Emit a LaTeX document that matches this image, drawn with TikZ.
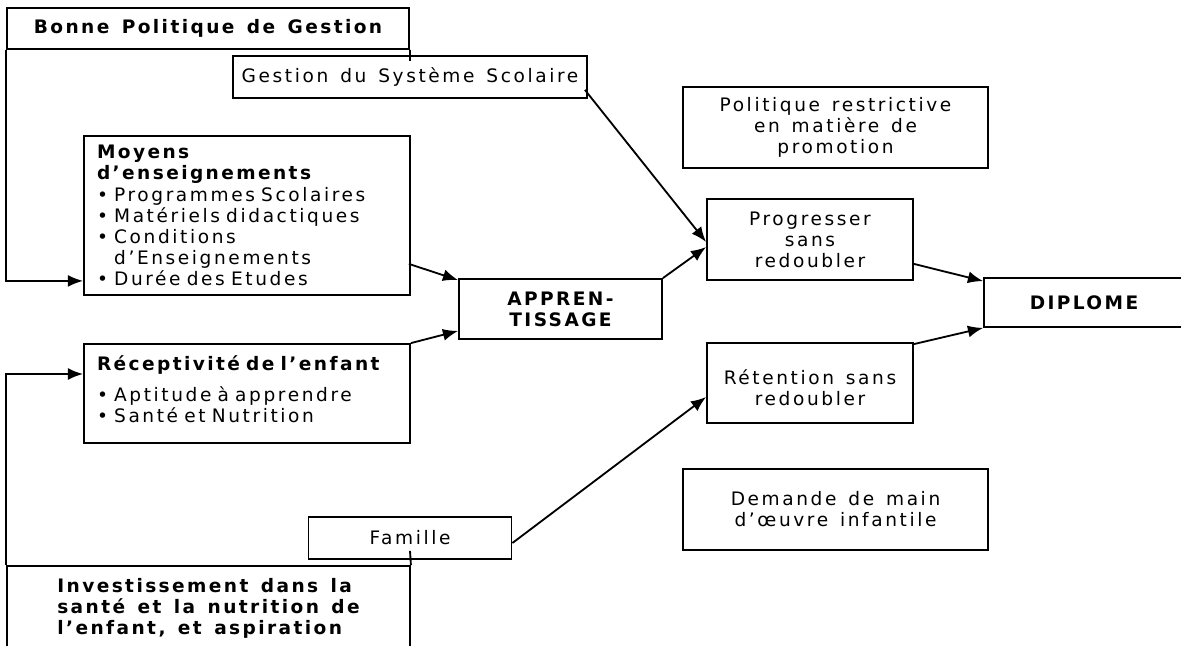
\documentclass[tikz,border=0pt]{standalone}
\usepackage{fontspec}
\setmainfont{DejaVu Sans}[LetterSpace=14, WordSpace=1.4, BoldFeatures={LetterSpace=13}]
\usetikzlibrary{arrows.meta}
\newcommand{\upx}{0.025cm}
\newcommand{\itm}{\textbullet\ }
\tikzset{
  box/.style={draw, line width=1.3pt, rectangle, inner sep=0pt, align=center,
    font=\fontsize{13.2}{15}\selectfont},
  boldbox/.style={box, font=\fontsize{13.2}{15}\selectfont\bfseries},
  link/.style={line width=1.3pt, -{Latex[length=0.38cm,width=0.3cm]}},
  plain/.style={line width=1.3pt}
}

\begin{document}
\begin{tikzpicture}[x=\upx, y=-\upx]
  \useasboundingbox (0,0) rectangle (1181,645);
  \clip (0,0) rectangle (1181,645);
  % left column
  \node[boldbox, minimum width=402*\upx, minimum height=41*\upx] (bonne) at (208,28.5) {Bonne Politique de Gestion};
  \node[box, minimum width=354*\upx, minimum height=42*\upx] (gestion) at (410,77) {Gestion du Système Scolaire};
  \node[box, align=left, text width=300*\upx, inner xsep=13*\upx, minimum height=159*\upx] (moyens) at (247,215.5)
    {\textbf{Moyens}\\\textbf{d'enseignements}\\
     \itm Programmes Scolaires\\
     \itm Matériels didactiques\\
     \itm Conditions\\
     \phantom{\itm}d'Enseignements\\
     \itm Durée des Etudes};
  \node[box, align=left, text width=300*\upx, inner xsep=13*\upx, minimum height=99*\upx] (recept) at (247,393.5)
    {\textbf{Réceptivité de l'enfant}\\[7pt]
     \itm Aptitude à apprendre\\
     \itm Santé et Nutrition\rule[-6pt]{0pt}{6pt}};
  \node[box, minimum width=203*\upx, minimum height=42*\upx] (famille) at (410,538) {Famille};
  \node[boldbox, align=left, minimum width=403*\upx, minimum height=84*\upx] (invest) at (208.5,608)
    {Investissement dans la\\santé et la nutrition de\\l'enfant, et aspiration};
  % middle
  \node[boldbox, minimum width=203*\upx, minimum height=60*\upx] (appr) at (560.5,309) {APPREN-\\TISSAGE};
  \node[box, minimum width=305*\upx, minimum height=81*\upx] (politique) at (835.5,127.5) {Politique restrictive\\en matière de\\promotion};
  \node[box, minimum width=206*\upx, minimum height=81*\upx] (progresser) at (810,239.5) {Progresser\\sans\\redoubler};
  \node[box, minimum width=206*\upx, minimum height=80*\upx] (retention) at (810,383) {\rule{0pt}{17pt}Rétention sans\\redoubler};
  \node[box, minimum width=305*\upx, minimum height=81*\upx] (demande) at (835.5,509.5) {Demande de main\\d'œuvre infantile};
  \node[boldbox, minimum width=200*\upx, minimum height=49*\upx] (diplome) at (1084,302.5) {DIPLOME};

  % connectors
  \draw[link] (bonne.south west) |- ([shift={(0,-15)}]moyens.south west);
  \draw[plain] (bonne.south east) -- ([shift={(0,6)}]bonne.south east |- gestion.north);
  \draw[link] ([shift={(-3,-9)}]gestion.south east) -- ([shift={(0,2.5)}]progresser.west);
  \draw[link] ([shift={(-2,-32)}]moyens.south east) -- ([shift={(0,2)}]appr.north west);
  \draw[link] (recept.north east) -- ([shift={(0,-9)}]appr.south west);
  \draw[link] (appr.north east) -- ([shift={(0,7.5)}]progresser.west);
  \draw[link] ([shift={(0,-17)}]progresser.south east) -- ([shift={(0,4)}]diplome.north west);
  \draw[link] ([shift={(0,2)}]retention.north east) -- (diplome.south west);
  \draw[link] ([shift={(0,5)}]famille.east) -- ([shift={(0,14)}]retention.west);
  \draw[plain] ([shift={(0,-9)}]famille.south) -- (invest.north east);
  \draw[link] (invest.north west) |- ([shift={(0,-19.5)}]recept.west);
\end{tikzpicture}
\end{document}
